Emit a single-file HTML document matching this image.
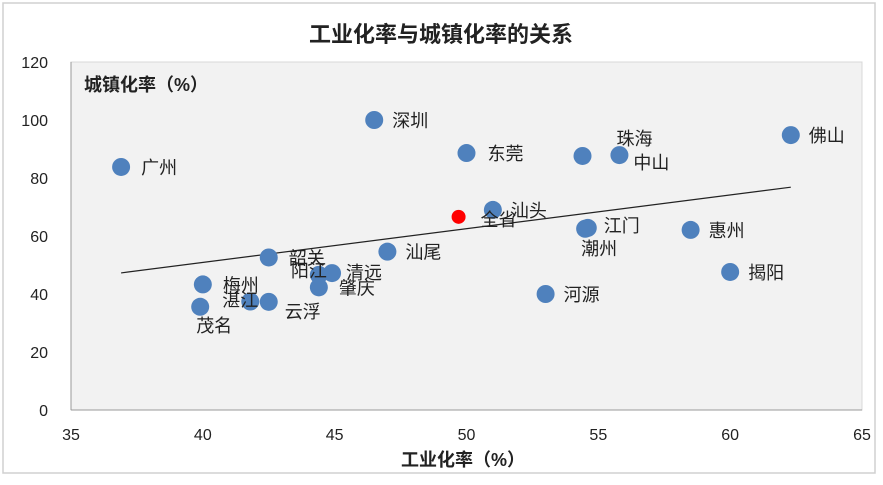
<!DOCTYPE html>
<html><head><meta charset="utf-8"><style>
body{margin:0;background:#fff;width:883px;height:480px;overflow:hidden}
text{font-family:"Liberation Sans","Noto Sans CJK SC",sans-serif;fill:#222}
</style></head><body>
<svg id="chart" width="883" height="480" xmlns="http://www.w3.org/2000/svg">
<rect x="3" y="3" width="872" height="470" fill="#fff" stroke="#d0d0d0" stroke-width="1.5"/>
<rect x="71" y="62" width="791" height="348" fill="#f2f2f2" stroke="#d8d8d8"/>
<text x="441" y="42" text-anchor="middle" font-size="22" font-weight="bold">工业化率与城镇化率的关系</text>
<text x="84" y="91" font-size="18" font-weight="bold">城镇化率（%）</text>
<text x="463" y="466" text-anchor="middle" font-size="18" font-weight="bold">工业化率（%）</text>
<g id="axes"></g><g id="marks"></g>
</svg>
<script>
const cities=["广州","深圳","东莞","珠海","中山","佛山","汕头","江门","潮州","惠州","揭阳","河源","汕尾","韶关","阳江","清远","肇庆","梅州","湛江","云浮","茂名"];
const industry=[36.9,46.5,50.0,54.4,55.8,62.3,51.0,54.6,54.5,58.5,60.0,53.0,47.0,42.5,44.4,44.9,44.4,40.0,41.8,42.5,39.9];
const urban=[83.8,100,88.6,87.6,87.9,94.8,69.0,62.8,62.5,62.1,47.6,40.0,54.6,52.6,46.6,47.2,42.3,43.3,37.4,37.3,35.6];
const provName="全省";const provX=49.7;const provY=66.6;
const xTicks=[35,40,45,50,55,60,65];
const yTicks=[0,20,40,60,80,100,120];
const labelDx=[20,18,21,34,14,18,18,16,-4,18,18,18,18,20,-28,14,20,20,-28,16,-4];
const labelDy=[0,0,0,-18,7,0,0,-3,19,0,0,0,0,0,-5,-1,0,0,-2,9,18];
const X=v=>71+(v-35)*(791/30), Y=v=>410-v*(348/120);
const NS="http://www.w3.org/2000/svg";
const mk=(t,a,p)=>{const e=document.createElementNS(NS,t);for(const k in a)e.setAttribute(k,a[k]);p.appendChild(e);return e;};
const ax=document.getElementById('axes'),mg=document.getElementById('marks');
const xl=mk('line',{x1:71,y1:410,x2:862,y2:410,stroke:'#999'},ax);


const yl=mk('line',{x1:71,y1:62,x2:71,y2:410,stroke:'#999'},ax);


xTicks.forEach(v=>{const t=mk('text',{x:X(v),y:440,'text-anchor':'middle','font-size':16},ax);t.textContent=v;

});
yTicks.forEach(v=>{const t=mk('text',{x:48,y:Y(v)+6,'text-anchor':'end','font-size':16},ax);t.textContent=v;

});
// regression trend line
const n=industry.length,mx=industry.reduce((a,b)=>a+b)/n,my=urban.reduce((a,b)=>a+b)/n;
let sxy=0,sxx=0;for(let i=0;i<n;i++){sxy+=(industry[i]-mx)*(urban[i]-my);sxx+=(industry[i]-mx)**2;}
const b=sxy/sxx,a=my-b*mx,x0=Math.min(...industry),x1=Math.max(...industry);
const tl=mk('line',{x1:X(x0),y1:Y(a+b*x0),x2:X(x1),y2:Y(a+b*x1),stroke:'#222','stroke-width':1.2},mg);


cities.forEach((c,i)=>{const d=mk('circle',{cx:X(industry[i]),cy:Y(urban[i]),r:9,fill:'#4f81bd'},mg);

});
cities.forEach((c,i)=>{const t=mk('text',{x:X(industry[i])+labelDx[i],y:Y(urban[i])+labelDy[i]+7,'font-size':18},mg);t.textContent=c;

});
const pd=mk('circle',{cx:X(provX),cy:Y(provY),r:7,fill:'#ff0000'},mg);


const pt=mk('text',{x:X(provX)+22,y:Y(provY)+9,'font-size':18},mg);pt.textContent=provName;


</script>
</body></html>
